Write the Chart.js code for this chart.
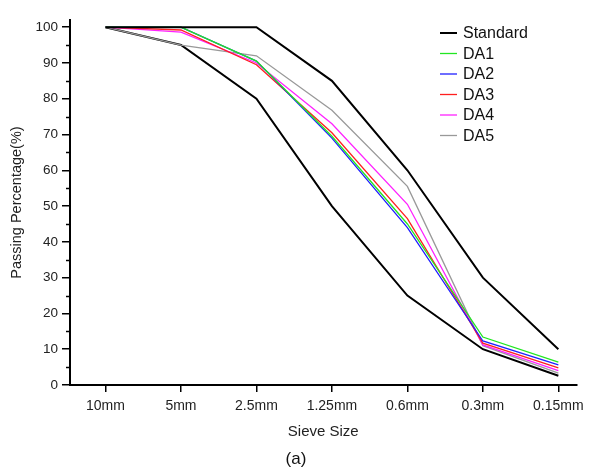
<!DOCTYPE html>
<html>
<head>
<meta charset="utf-8">
<script src="https://cdn.jsdelivr.net/npm/chart.js@4/dist/chart.umd.min.js"></script>
<style>
  html, body { margin: 0; padding: 0; background: #fff; }
  #wrap { width: 590px; height: 472px; position: relative; }
</style>
</head>
<body>
<div id="wrap"><canvas id="myChart"></canvas></div>
<script>
// ===== DATA =====
const categories = ['10mm', '5mm', '2.5mm', '1.25mm', '0.6mm', '0.3mm', '0.15mm'];
const standardUpper = [100, 100, 100, 85, 60, 30, 10];
const standardLower = [100, 95, 80, 50, 25, 10, 2.6];
const da1 = [100, 100, 90.5, 69.5, 45, 13.4, 6.4];
const da2 = [100, 100, 90.5, 69, 44, 12.3, 5.6];
const da3 = [100, 99.2, 89.5, 70.5, 46.5, 11.7, 4.8];
const da4 = [100, 98.6, 90, 73, 50.5, 11.2, 4];
const da5 = [100, 95, 92, 76.8, 55.5, 11, 3.3];
const yTicks = [0, 10, 20, 30, 40, 50, 60, 70, 80, 90, 100];

const pts = arr => arr.map((v, i) => ({ x: i, y: v }));
const FONT = "'Liberation Sans', Arial, sans-serif";

function line(label, data, color, width) {
  return {
    label: label,
    data: pts(data),
    borderColor: color,
    backgroundColor: color,
    borderWidth: width,
    pointRadius: 0,
    tension: 0,
    fill: false
  };
}

// legend + minor ticks + caption drawn on canvas
const extras = {
  id: 'extras',
  afterDraw(chart) {
    const c = chart.ctx;
    const y = chart.scales.y;
    c.save();
    // minor y ticks
    c.strokeStyle = '#000';
    c.lineWidth = 1.5;
    for (let v = 5; v <= 100; v += 10) {
      const py = Math.round(y.getPixelForValue(v)) + 0.5;
      c.beginPath();
      c.moveTo(y.right - 4, py);
      c.lineTo(y.right, py);
      c.stroke();
    }
    // legend
    const items = chart.data.datasets.filter(d => !d.hideLegend);
    c.font = '16px ' + FONT;
    c.textBaseline = 'middle';
    items.forEach((d, i) => {
      const ly = 33 + i * 20.5;
      c.strokeStyle = d.borderColor;
      c.lineWidth = d.borderWidth;
      c.beginPath();
      c.moveTo(440, ly);
      c.lineTo(457, ly);
      c.stroke();
      c.fillStyle = '#111';
      c.fillText(d.label, 463, ly + 1);
    });
    // caption
    c.font = '17px ' + FONT;
    c.textAlign = 'center';
    c.fillStyle = '#111';
    c.fillText('(a)', 296, 459);
    c.restore();
  }
};

const ctx = document.getElementById('myChart').getContext('2d');
const lower = line('Standard', standardLower, '#000', 2);
lower.hideLegend = true;

new Chart(ctx, {
  type: 'line',
  data: {
    datasets: [
      line('Standard', standardUpper, '#000', 2),
      line('DA1', da1, '#22e622', 1.3),
      line('DA2', da2, '#2020ff', 1.3),
      line('DA3', da3, '#ff1f1f', 1.3),
      line('DA4', da4, '#ff22ff', 1.3),
      line('DA5', da5, '#999999', 1.3),
      lower
    ]
  },
  options: {
    responsive: true,
    maintainAspectRatio: false,
    animation: false,
    layout: { padding: { top: 20, right: 10, left: 0, bottom: 31 } },
    plugins: {
      legend: { display: false },
      tooltip: { enabled: false }
    },
    scales: {
      x: {
        type: 'linear',
        min: -0.47,
        max: 6.24,
        afterBuildTicks: s => { s.ticks = categories.map((c, i) => ({ value: i })); },
        afterFit: s => { s.height = 56; },
        border: { display: true, color: '#000', width: 2 },
        grid: { drawOnChartArea: false, drawTicks: true, tickLength: 7, color: '#000', lineWidth: 1.5 },
        ticks: {
          color: '#222',
          padding: 6,
          font: { family: FONT, size: 14 },
          callback: v => categories[v]
        },
        title: {
          display: true,
          text: 'Sieve Size',
          color: '#222',
          font: { family: FONT, size: 15 },
          padding: { top: 6, bottom: 0 }
        }
      },
      y: {
        type: 'linear',
        min: 0,
        max: 102,
        afterBuildTicks: s => { s.ticks = yTicks.map(v => ({ value: v })); },
        afterFit: s => { s.width = 70; },
        border: { display: true, color: '#000', width: 2 },
        grid: { drawOnChartArea: false, drawTicks: true, tickLength: 8, color: '#000', lineWidth: 1.5 },
        ticks: {
          color: '#222',
          padding: 4,
          font: { family: FONT, size: 13.5 }
        },
        title: {
          display: true,
          text: 'Passing Percentage(%)',
          color: '#222',
          font: { family: FONT, size: 14.5 },
          padding: { top: 8, bottom: 0 }
        }
      }
    }
  },
  plugins: [extras]
});
</script>
</body>
</html>
